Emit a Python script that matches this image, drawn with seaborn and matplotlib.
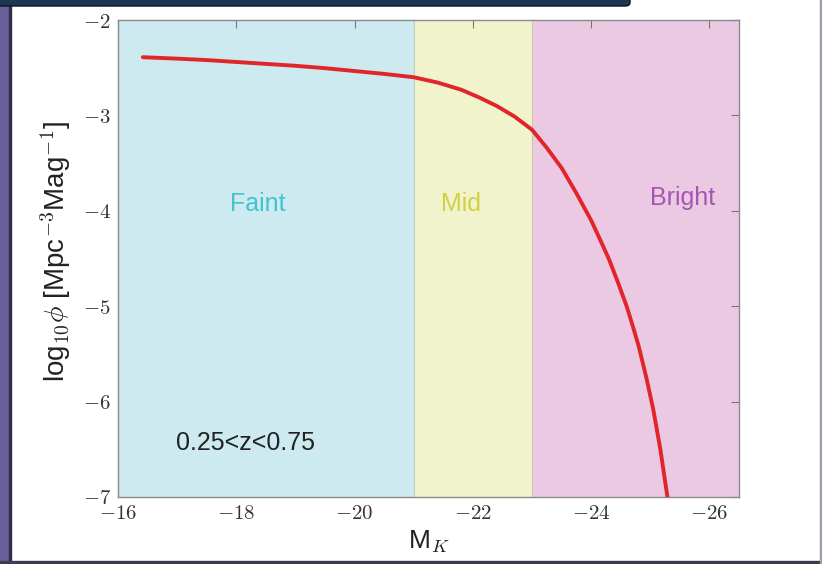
import matplotlib
matplotlib.use("Agg")
import matplotlib.pyplot as plt
import matplotlib.patches as mpatches
from matplotlib.ticker import FuncFormatter
import seaborn as sns
import pandas as pd

# ---- data ----
mag_k = [-16.42, -17.0, -17.5, -18.0, -18.5, -19.0, -19.5, -20.0, -20.5, -21.0,
         -21.4, -21.8, -22.1, -22.4, -22.7, -23.0, -23.25, -23.5, -23.75, -24.0,
         -24.15, -24.3, -24.45, -24.6, -24.7, -24.8, -24.93, -25.05, -25.17, -25.29]
log_phi = [-2.39, -2.405, -2.42, -2.44, -2.46, -2.48, -2.505, -2.535, -2.565, -2.60,
           -2.655, -2.73, -2.81, -2.90, -3.01, -3.15, -3.34, -3.55, -3.815, -4.10,
           -4.30, -4.505, -4.745, -5.00, -5.20, -5.41, -5.74, -6.08, -6.50, -7.00]
bin_names = ["Faint", "Mid", "Bright"]
bin_edges = [-16.0, -21.0, -23.0, -26.5]
bin_colors = ["#cdeaf0", "#f1f3cd", "#ecc9e2"]
label_colors = ["#45c3cc", "#cfd23c", "#a556b4"]
label_pos = [(-18.37, -3.93), (-21.8, -3.93), (-25.54, -3.87)]
redshift_text = "0.25<z<0.75"
x_ticks = [-16, -18, -20, -22, -24, -26]
y_ticks = [-2, -3, -4, -5, -6, -7]

df = pd.DataFrame({"M": mag_k, "logphi": log_phi})

sns.set_theme(style="white")
plt.rcParams["font.family"] = ["Liberation Sans", "DejaVu Sans"]
plt.rcParams["mathtext.fontset"] = "cm"

fig = plt.figure(figsize=(8.22, 5.64), dpi=100)
fig.patch.set_facecolor("white")
ax = fig.add_axes([118 / 822, 1 - 497 / 564, (739 - 118) / 822, (497 - 20) / 564])

for i in range(3):
    ax.axvspan(bin_edges[i], bin_edges[i + 1], color=bin_colors[i], lw=0, zorder=0)
    if i > 0:
        ax.axvline(bin_edges[i], color="#c8c8b0", lw=0.8, zorder=0.5)

sns.lineplot(data=df, x="M", y="logphi", ax=ax, color="#e0262a", lw=2.8,
             zorder=3, legend=False, solid_capstyle="round")

for name, c, (px, py) in zip(bin_names, label_colors, label_pos):
    ax.text(px, py, name, color=c, fontsize=18, ha="center", va="center")
ax.text(-18.15, -6.43, redshift_text, color="#222222", fontsize=18,
        ha="center", va="center")

ax.set_xlim(bin_edges[0], bin_edges[-1])
ax.set_ylim(y_ticks[-1], y_ticks[0])
ax.set_xticks(x_ticks)
ax.set_yticks(y_ticks)
fmt = FuncFormatter(lambda v, p: r"$%d$" % round(v))
ax.xaxis.set_major_formatter(fmt)
ax.yaxis.set_major_formatter(fmt)
ax.tick_params(axis="both", which="major", direction="in", length=6, width=0.8,
               color="#777777", top=True, right=True, labelsize=15,
               labelcolor="#333333", pad=5)
for s in ax.spines.values():
    s.set_color("#8a8a8a")
    s.set_linewidth(1.0)

ax.set_xlabel(r"M$_K$", fontsize=19, color="#222222", labelpad=4)
ax.set_ylabel(r"log$_{10}\phi$ [Mpc$^{-3}$Mag$^{-1}$]", fontsize=20,
              color="#222222")
ax.yaxis.set_label_coords(-0.072, 0.515)

# slide frame decoration
fig.patches.append(mpatches.Rectangle((0, 0), 9 / 822, 1, transform=fig.transFigure,
                                      color="#6b5f9b", zorder=10))
fig.patches.append(mpatches.Rectangle((9 / 822, 0), 2 / 822, 1, transform=fig.transFigure,
                                      color="#2c2f45", zorder=10))
fig.patches.append(mpatches.Rectangle((0, 0), 1, 3 / 564, transform=fig.transFigure,
                                      color="#3a3c50", zorder=10))
fig.patches.append(mpatches.Rectangle((820 / 822, 0), 2 / 822, 1, transform=fig.transFigure,
                                      color="#9a9aa8", zorder=10))
fig.patches.append(mpatches.FancyBboxPatch((-10 / 822, 1 - 6 / 564), 640 / 822, 12 / 564,
                                           boxstyle="round,pad=0,rounding_size=0.006",
                                           transform=fig.transFigure,
                                           facecolor="#1f3553", edgecolor="#0d1522",
                                           lw=1, zorder=10))

fig.savefig("out.png", dpi=100)
